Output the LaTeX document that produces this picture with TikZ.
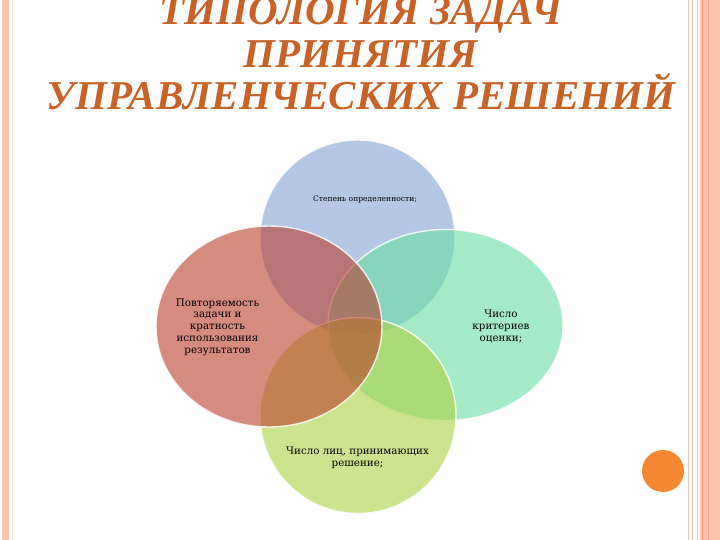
\documentclass[tikz,border=0pt]{standalone}
\usepackage{fontspec}
\setmainfont{Liberation Serif}
\newfontfamily\ctextfont{DejaVu Serif}
\definecolor{titlecol}{RGB}{200,98,38}
\definecolor{peach}{RGB}{252,196,172}
\definecolor{peachdark}{RGB}{236,150,115}
\definecolor{tanline}{RGB}{232,200,180}
\definecolor{lavline}{RGB}{236,226,240}
\definecolor{yelline}{RGB}{248,244,215}
\definecolor{cblue}{RGB}{130,162,213}
\definecolor{cred}{RGB}{187,63,43}
\definecolor{cgreen}{RGB}{107,223,163}
\definecolor{clime}{RGB}{172,210,67}
\definecolor{corange}{RGB}{245,135,50}
\tikzset{
  venn/.style={fill opacity=0.6, draw=white, draw opacity=0.85, line width=1.4pt},
  vtext/.style={align=center, text=black, inner sep=0pt,
    font=\ctextfont\fontsize{10.3}{11.8}\selectfont},
  ttext/.style={text=titlecol, inner sep=0pt, anchor=base,
    font=\bfseries\itshape\fontsize{41}{41}\selectfont}
}
\begin{document}
\begin{tikzpicture}[x=1pt,y=-1pt]
\useasboundingbox (0,0) rectangle (720,540);
\fill[white] (0,0) rectangle (720,540);
% left border
\fill[peach] (2,0) rectangle (9,540);
\draw[lavline, line width=1pt] (12,0) -- (12,540);
\draw[yelline, line width=1pt] (14.5,0) -- (14.5,540);
% right border
\draw[tanline, line width=1pt] (688,0) -- (688,540);
\draw[tanline, line width=0.8pt] (692.5,0) -- (692.5,540);
\draw[tanline, line width=1pt] (697,0) -- (697,540);
\fill[peach] (700,0) rectangle (720,540);
\draw[peachdark, line width=1pt] (702.5,0) -- (702.5,540);
\draw[peachdark!60!peach, line width=0.8pt] (708,0) -- (708,540);
% title
\node[ttext] (t1) at (361,25) {ТИПОЛОГИЯ ЗАДАЧ};
\node[ttext] (t2) at (361,68) {ПРИНЯТИЯ};
\node[ttext] (t3) at (361,110) {УПРАВЛЕНЧЕСКИХ РЕШЕНИЙ};
% venn
\path[venn, fill=cblue] (357.5,237.5) circle[radius=97.5];
\path[venn, fill=cgreen] (445.5,325) ellipse[x radius=117.5, y radius=95.5];
\path[venn, fill=clime] (358,415.5) circle[radius=98];
\path[venn, fill=cred] (269,326.5) ellipse[x radius=113, y radius=100.5];
% texts
\node[vtext, font=\ctextfont\fontsize{7.6}{10}\selectfont] (s1) at (365,199) {Степень определенности;};
\node[vtext] (s2) at (217.5,327) {Повторяемость\\задачи и\\кратность\\использования\\результатов};
\node[vtext] (s3) at (501,326.5) {Число\\критериев\\оценки;};
\node[vtext] (s4) at (357.5,457.5) {Число лиц, принимающих\\решение;};
% orange dot
\fill[corange] (663,471) circle[radius=21];
\end{tikzpicture}
\end{document}
